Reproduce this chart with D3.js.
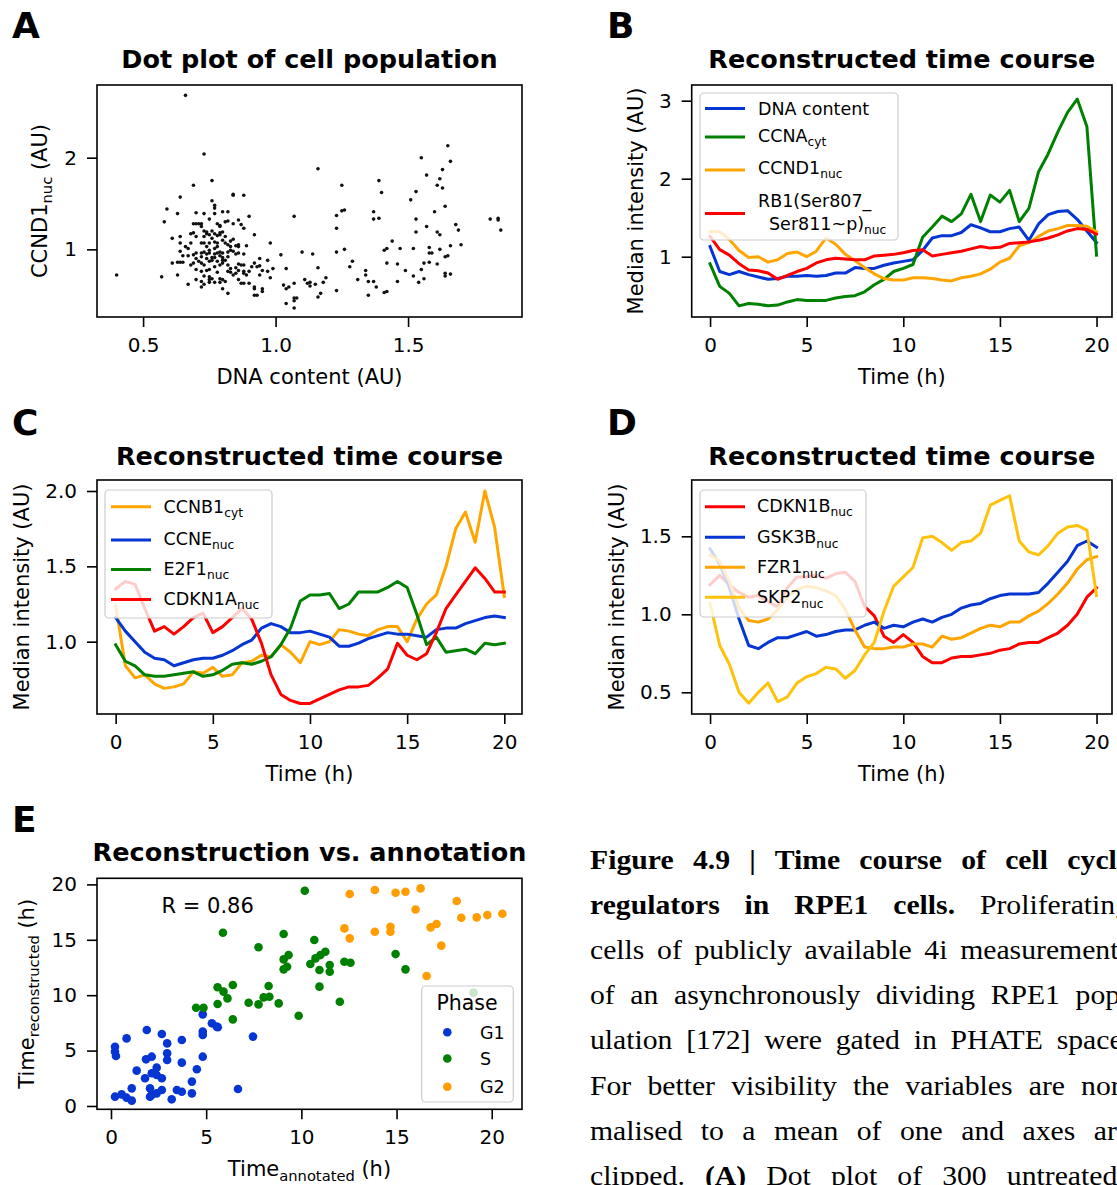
<!DOCTYPE html>
<html>
<head>
<meta charset="utf-8">
<script src="https://cdn.jsdelivr.net/npm/d3@7"></script>
<style>
body { margin: 0; background: #fff; }
svg { display: block; }
</style>
</head>
<body>
<script>
// ---- data ----
var hours = [0,0.5,1,1.5,2,2.5,3,3.5,4,4.5,5,5.5,6,6.5,7,7.5,8,8.5,9,9.5,10,
             10.5,11,11.5,12,12.5,13,13.5,14,14.5,15,15.5,16,16.5,17,17.5,18,18.5,19,19.5,20];

// panel B
var dnaContent = [1.13,0.81,0.77,0.81,0.77,0.74,0.71,0.72,0.75,0.75,0.76,0.75,0.76,0.79,0.79,0.86,0.85,0.85,0.89,0.92,
                  0.94,0.96,1.08,1.24,1.27,1.27,1.31,1.41,1.37,1.32,1.32,1.36,1.38,1.21,1.42,1.54,1.58,1.59,1.48,1.33,1.18];
var ccnaCyt    = [0.91,0.62,0.53,0.37,0.40,0.39,0.37,0.38,0.42,0.45,0.44,0.44,0.44,0.47,0.49,0.50,0.55,0.64,0.71,0.81,
                  0.85,0.90,1.25,1.38,1.52,1.45,1.55,1.80,1.45,1.79,1.70,1.85,1.45,1.62,2.09,2.32,2.60,2.85,3.02,2.67,1.02];
var ccnd1Nuc   = [1.32,1.32,1.22,1.08,0.99,1.00,0.93,0.96,1.04,1.06,1.00,1.07,1.24,1.16,1.03,0.95,0.86,0.78,0.72,0.70,
                  0.70,0.73,0.73,0.72,0.70,0.69,0.73,0.75,0.78,0.84,0.93,0.98,1.14,1.18,1.26,1.33,1.36,1.40,1.40,1.39,1.32];
var rb1Nuc     = [1.26,1.09,1.02,0.91,0.83,0.82,0.79,0.71,0.76,0.81,0.85,0.92,0.96,0.98,0.97,0.96,0.96,1.01,1.02,1.03,
                  1.05,1.08,1.09,1.01,1.03,1.05,1.07,1.10,1.13,1.11,1.12,1.17,1.18,1.19,1.21,1.24,1.28,1.33,1.36,1.35,1.29];

// panel C
var ccnb1Cyt  = [1.24,0.84,0.76,0.78,0.72,0.69,0.70,0.72,0.80,0.79,0.83,0.77,0.78,0.86,0.87,0.91,0.90,0.98,0.93,0.86,
                 1.00,0.98,1.00,1.08,1.07,1.05,1.04,1.08,1.10,1.10,1.00,1.15,1.25,1.31,1.50,1.75,1.86,1.66,2.00,1.76,1.30];
var ccneNuc   = [1.16,1.07,1.00,0.93,0.89,0.88,0.84,0.86,0.88,0.89,0.89,0.91,0.94,0.98,1.01,1.09,1.12,1.10,1.06,1.06,
                 1.07,1.05,1.03,0.97,0.97,0.99,1.02,1.04,1.06,1.05,1.05,1.04,1.03,1.08,1.09,1.09,1.12,1.14,1.16,1.17,1.16];
var e2f1Nuc   = [0.98,0.87,0.84,0.78,0.77,0.77,0.78,0.79,0.80,0.77,0.78,0.81,0.85,0.86,0.85,0.87,0.90,0.98,1.09,1.27,
                 1.31,1.31,1.32,1.22,1.25,1.33,1.33,1.33,1.36,1.40,1.36,1.18,0.98,1.03,0.93,0.94,0.95,0.92,0.99,0.98,0.99];
var cdkn1aNuc = [1.35,1.40,1.38,1.22,1.07,1.10,1.05,1.10,1.16,1.19,1.06,1.10,1.16,1.22,1.15,0.99,0.78,0.65,0.61,0.59,
                 0.59,0.62,0.65,0.68,0.70,0.70,0.71,0.76,0.82,0.99,0.91,0.88,0.92,1.06,1.22,1.31,1.40,1.49,1.42,1.33,1.33];

// panel D
var cdkn1bNuc = [1.19,1.25,1.19,1.14,1.11,1.12,1.08,1.05,1.17,1.24,1.24,1.25,1.23,1.26,1.27,1.21,1.05,0.99,0.86,0.82,
                 0.87,0.82,0.73,0.69,0.69,0.72,0.73,0.73,0.74,0.75,0.77,0.78,0.81,0.82,0.82,0.85,0.88,0.93,1.00,1.11,1.17];
var gsk3bNuc  = [1.42,1.32,1.17,0.97,0.80,0.78,0.82,0.85,0.85,0.87,0.89,0.86,0.87,0.89,0.90,0.90,0.93,0.95,0.91,0.93,
                 0.92,0.95,0.97,0.95,0.98,1.00,1.04,1.06,1.07,1.10,1.12,1.13,1.13,1.13,1.14,1.20,1.27,1.34,1.44,1.47,1.43];
var fzr1Nuc   = [1.38,1.34,1.21,1.04,0.96,0.95,0.97,1.03,1.11,1.16,1.18,1.17,1.15,1.12,1.03,0.90,0.79,0.78,0.78,0.79,
                 0.79,0.81,0.81,0.79,0.86,0.84,0.85,0.88,0.91,0.93,0.92,0.95,0.95,0.99,1.02,1.07,1.13,1.20,1.29,1.35,1.37];
var skp2Nuc   = [1.07,0.80,0.68,0.50,0.43,0.50,0.56,0.44,0.47,0.56,0.60,0.62,0.66,0.65,0.59,0.64,0.74,0.82,1.02,1.18,
                 1.24,1.30,1.49,1.50,1.46,1.41,1.46,1.47,1.52,1.70,1.73,1.76,1.47,1.40,1.38,1.44,1.52,1.56,1.57,1.54,1.12];

// panel A, one dot per cell
var cellDna = [
  0.40,0.57,0.66,0.73,0.76,0.69,0.64,0.59,0.58,0.63, 0.61,0.64,0.64,0.64,0.63,0.61,0.63,0.67,0.69,0.68,
  0.69,0.65,0.67,0.67,0.65,0.64,0.70,0.71,0.70,0.72, 0.73,0.72,0.73,0.74,0.76,0.77,0.77,0.77,0.75,0.74,
  0.76,0.77,0.78,0.79,0.79,0.78,0.79,0.80,0.82,0.81, 0.82,0.84,0.84,0.88,0.90,0.84,0.86,0.87,0.88,0.84,
  0.86,0.86,0.89,0.82,0.81,0.80,0.78,0.77,0.75,0.73, 0.74,0.75,0.77,0.78,0.79,0.80,0.82,0.83,0.84,0.86,
  0.88,0.78,0.77,0.75,0.74,0.73,0.72,0.70,0.69,0.70, 0.69,0.68,0.70,0.72,0.73,0.75,0.76,0.78,0.79,0.80,
  0.81,0.82,0.80,0.79,0.77,0.75,0.74,0.72,0.75,0.78, 0.79,0.80,0.82,0.83,0.84,0.85,0.86,0.87,0.88,0.88,
  0.86,0.85,0.83,0.70,0.72,0.73,0.72,0.75,0.77,0.79, 0.80,0.81,0.82,0.88,0.88,0.90,0.90,0.92,0.92,0.92,
  0.93,0.95,0.95,0.94,0.92,0.94,0.94,0.93,0.92,0.98, 0.97,0.99,0.98,1.02,1.04,1.03,1.04,1.05,1.07,1.07,
  1.07,1.07,1.08,1.07,1.04,1.10,1.11,1.12,1.13,1.13, 1.14,1.15,1.16,1.16,1.17,1.18,1.19,1.16,1.23,1.23,
  1.23,1.23,1.25,1.26,1.25,1.26,1.28,1.29,1.31,1.34, 1.34,1.35,1.35,1.37,1.37,1.37,1.39,1.38,1.39,1.40,
  1.41,1.42,1.41,1.42,1.42,1.44,1.46,1.46,1.47,1.49, 1.51,1.52,1.52,1.53,1.53,1.53,1.54,1.55,1.55,1.56,
  1.56,1.57,1.57,1.58,1.58,1.58,1.59,1.60,1.61,1.61, 1.61,1.62,1.62,1.62,1.63,1.63,1.64,1.64,1.64,1.64,
  1.65,1.65,1.66,1.66,1.66,1.68,1.69,1.70,1.81,1.84, 1.84,1.85,
  0.75,0.76,0.73,0.79,0.80,0.81,0.83,0.83,0.85,0.85, 0.82,0.80,0.77,0.76,0.74,0.72,0.71,0.73,0.75,0.76,
  0.87,0.86,0.89,0.91,0.95,0.97,0.70,0.68,0.66,0.72
];
var cellCcnd1 = [
  0.72,0.70,2.68,2.04,1.75,1.70,1.57,1.44,1.30,1.39, 1.12,1.14,1.07,0.98,0.86,0.85,0.72,0.62,1.28,1.17,
  1.18,0.93,0.93,1.01,0.86,0.86,1.40,1.28,1.28,1.28, 1.39,1.25,1.20,1.17,1.53,1.48,1.45,1.39,1.33,1.19,
  1.20,1.17,1.28,1.26,1.25,1.15,1.16,1.41,1.41,1.30, 1.31,1.60,1.59,1.59,1.36,1.28,1.32,1.27,1.23,1.11,
  1.05,1.03,1.04,1.05,1.07,1.10,1.07,1.08,1.07,1.07, 1.03,0.99,1.01,1.03,0.97,0.96,0.97,0.99,0.98,0.96,
  0.95,0.96,0.95,0.96,0.95,0.97,0.96,0.96,0.94,0.90, 0.85,0.83,0.78,0.85,0.83,0.87,0.88,0.87,0.93,0.88,
  0.88,0.83,0.85,0.83,0.81,0.78,0.77,0.76,0.70,0.75, 0.68,0.67,0.76,0.75,0.72,0.74,0.77,0.83,0.76,0.83,
  0.84,0.80,0.79,0.67,0.65,0.62,0.59,0.67,0.64,0.64, 0.57,0.65,0.52,0.74,0.63,0.63,0.76,0.59,0.57,0.50,
  0.50,0.57,0.54,0.72,0.85,0.90,0.82,0.81,1.16,1.07, 0.76,0.79,0.69,0.94,0.79,0.61,0.57,0.59,1.36,0.63,
  0.47,0.44,0.47,0.36,0.41,0.97,0.67,0.63,0.60,0.64, 0.95,0.62,0.80,0.48,0.52,0.64,0.69,1.88,1.37,1.23,
  0.97,0.55,1.42,1.43,1.70,1.00,0.81,0.87,0.67,0.77, 0.72,0.65,0.50,0.65,1.41,1.33,1.34,0.59,1.75,1.62,
  0.53,0.54,0.99,1.01,0.85,1.09,0.65,0.84,1.01,0.77, 1.54,1.01,0.71,1.33,1.19,1.63,0.64,2.00,0.78,0.85,
  0.68,1.25,1.81,1.02,0.96,0.86,0.96,1.41,0.84,1.70, 1.19,1.00,1.16,1.77,1.67,1.87,1.47,0.92,0.74,0.71,
  0.93,2.13,1.96,1.04,0.73,1.27,1.21,1.05,1.33,1.32, 1.34,1.21,
  1.16,1.12,1.14,1.18,1.19,1.14,1.09,1.03,1.04,0.95, 0.92,0.91,0.91,0.91,0.90,0.92,0.87,0.71,0.64,0.68,
  0.63,0.67,0.72,0.81,0.77,0.88,1.14,1.07,1.03,1.07
];

// panel E
var g1Annotated = [0.21,0.21,0.26,0.82,1.88,2.67,2.95,2.95,2.95,1.84,2.14,1.35,2.40,1.79,2.14,2.40,2.67,0.21,0.56,0.82,
                   1.09,1.09,2.05,2.14,2.05,2.40,2.67,3.19,3.46,3.72,4.25,4.25,3.72,3.72,4.51,4.82,4.82,4.82,4.82,5.30,
                   5.56,5.61,7.46,6.67];
var g1Reconstructed = [5.35,4.90,4.51,6.10,6.86,6.50,5.65,4.75,4.15,4.21,4.45,3.19,3.46,2.50,2.95,2.80,2.50,0.84,1.05,0.75,
                       0.48,1.59,1.59,0.99,0.84,1.14,1.44,0.60,1.44,1.29,1.14,2.20,5.95,3.91,3.31,4.45,6.41,6.71,8.27,7.46,
                       7.16,7.10,6.26,1.53];
var sAnnotated = [10.18,5.88,7.75,9.07,10.68,9.07,9.33,9.07,9.25,10.47,10.74,11.00,11.26,10.95,11.49,11.49,12.26,12.58,10.95,12.02,
                  14.95,15.47,19.04,5.60,5.91,6.40,6.12,5.60,4.47,4.86,6.40,7.23,7.75,8.02,8.32,8.28,8.81,9.86];
var sReconstructed = [19.43,15.64,14.32,15.52,14.98,13.23,13.62,12.33,12.57,12.81,13.32,13.62,13.92,12.27,12.72,12.12,13.02,12.93,10.77,9.41,
                      13.71,12.33,10.23,10.71,10.32,10.92,9.71,9.20,8.87,8.87,7.82,9.32,9.17,9.80,9.86,10.83,9.26,8.15];
var g2Annotated = [12.54,13.86,14.95,15.47,16.26,16.00,18.16,18.40,19.21,19.77,20.56,12.26,12.54,13.86,14.68,14.68,16.79,17.10,17.35,16.58];
var g2Reconstructed = [19.13,19.49,19.25,19.34,19.64,17.74,18.50,16.99,17.02,17.23,17.35,16.03,15.13,15.73,16.18,15.73,16.12,16.42,14.47,11.73];
var correlationR = 0.86;

// ticks
var timeTicks = [0, 5, 10, 15, 20];
var dnaTicks = [0.5, 1.0, 1.5];
var ccndTicks = [1, 2];
var bTicks = [1, 2, 3];
var cTicks = [1.0, 1.5, 2.0];
var dTicks = [0.5, 1.0, 1.5];
var eTicks = [0, 5, 10, 15, 20];

// ---- drawing ----
var W = 1117, H = 1185;
var SANS = "DejaVu Sans";
var BLUE = "#0535d2", GREEN = "#008000", ORANGE = "#ffa500", RED = "#ff0000", AMBER = "#ffc20a";

var svg = d3.select("body").append("svg").attr("width", W).attr("height", H);
svg.append("rect").attr("width", W).attr("height", H).attr("fill", "#fff");

var clipCount = 0;
function panel(box, xDomain, yDomain, xTicks, yTicks, xFmt, yFmt) {
    var x = d3.scaleLinear().domain(xDomain).range([box.l, box.r]);
    var y = d3.scaleLinear().domain(yDomain).range([box.b, box.t]);
    var g = svg.append("g");
    var id = "clip" + (clipCount++);
    g.append("clipPath").attr("id", id).append("rect")
        .attr("x", box.l).attr("y", box.t)
        .attr("width", box.r - box.l).attr("height", box.b - box.t);
    var plot = g.append("g").attr("clip-path", "url(#" + id + ")");
    var xa = g.append("g").attr("transform", "translate(0," + box.b + ")")
        .call(d3.axisBottom(x).tickValues(xTicks).tickFormat(xFmt).tickSize(10).tickPadding(11));
    var ya = g.append("g").attr("transform", "translate(" + box.l + ",0)")
        .call(d3.axisLeft(y).tickValues(yTicks).tickFormat(yFmt).tickSize(10).tickPadding(10));
    [xa, ya].forEach(function(a) {
        a.select(".domain").remove();
        a.attr("font-family", SANS).attr("font-size", 20);
        a.selectAll("line").attr("stroke", "#000").attr("stroke-width", 1.6);
        a.selectAll("text").attr("fill", "#000");
    });
    return {g: g, plot: plot, x: x, y: y, box: box};
}

function frame(p) {
    p.g.append("rect")
        .attr("x", p.box.l).attr("y", p.box.t)
        .attr("width", p.box.r - p.box.l).attr("height", p.box.b - p.box.t)
        .attr("fill", "none").attr("stroke", "#000").attr("stroke-width", 1.6);
}

// parts: strings, or {sub: "..."} for a subscript
function rich(text, parts, size) {
    var low = false;
    parts.forEach(function(p) {
        var sub = typeof p !== "string";
        var t = text.append("tspan").text(sub ? p.sub : p);
        if (sub) {
            t.attr("font-size", size * 0.7).attr("dy", size * 0.24);
            low = true;
        } else {
            t.attr("font-size", size);
            if (low) { t.attr("dy", -size * 0.24); low = false; }
        }
    });
}

function xLabel(p, parts, base) {
    var t = svg.append("text").attr("x", (p.box.l + p.box.r) / 2).attr("y", base)
        .attr("text-anchor", "middle").attr("font-family", SANS);
    rich(t, parts, 21);
}
function yLabel(p, parts, xb) {
    var t = svg.append("text")
        .attr("transform", "translate(" + xb + "," + (p.box.t + p.box.b) / 2 + ") rotate(-90)")
        .attr("text-anchor", "middle").attr("font-family", SANS);
    rich(t, parts, 21);
}
function title(p, str, base) {
    svg.append("text").attr("x", (p.box.l + p.box.r) / 2).attr("y", base)
        .attr("text-anchor", "middle").attr("font-family", SANS)
        .attr("font-weight", "bold").attr("font-size", 25.5).text(str);
}
function letter(str, x, base) {
    svg.append("text").attr("x", x).attr("y", base).attr("font-family", SANS)
        .attr("font-weight", "bold").attr("font-size", 36).text(str);
}

function drawLines(p, series) {
    var line = d3.line()
        .x(function(d, i) { return p.x(hours[i]); })
        .y(function(d) { return p.y(d); });
    series.forEach(function(s) {
        p.plot.append("path").datum(s.values)
            .attr("d", line).attr("fill", "none")
            .attr("stroke", s.color).attr("stroke-width", 3)
            .attr("stroke-linejoin", "round").attr("stroke-linecap", "square");
    });
}

function legendBox(x, y, w, h) {
    svg.append("rect").attr("x", x).attr("y", y).attr("width", w).attr("height", h)
        .attr("rx", 4).attr("fill", "#fff").attr("fill-opacity", 0.8)
        .attr("stroke", "#cccccc").attr("stroke-width", 1.2);
}
function legendLines(x0, series, tx) {
    series.forEach(function(s) {
        svg.append("line").attr("x1", x0).attr("x2", x0 + 40)
            .attr("y1", s.hy).attr("y2", s.hy)
            .attr("stroke", s.color).attr("stroke-width", 3);
        s.lines.forEach(function(parts, k) {
            var t = svg.append("text").attr("x", tx + (k > 0 ? 11 : 0)).attr("y", s.base + k * 23)
                .attr("font-family", SANS);
            rich(t, parts, 17.5);
        });
    });
}

var fmt1 = d3.format(".1f"), fmt0 = d3.format("d");

// A: dot plot
var pA = panel({l: 97, r: 522, t: 85, b: 317}, [0.326, 1.930], [0.262, 2.793], dnaTicks, ccndTicks, fmt1, fmt0);
pA.plot.selectAll("circle").data(cellDna).enter().append("circle")
    .attr("cx", function(d) { return pA.x(d); })
    .attr("cy", function(d, i) { return pA.y(cellCcnd1[i]); })
    .attr("r", 1.8).attr("fill", "#111");
frame(pA);
title(pA, "Dot plot of cell population", 68);
xLabel(pA, ["DNA content (AU)"], 384);
yLabel(pA, ["CCND1", {sub: "nuc"}, " (AU)"], 47);
letter("A", 12, 38);

// B
var seriesB = [
    {values: dnaContent, color: BLUE, hy: 108.5, base: 115, lines: [["DNA content"]]},
    {values: ccnaCyt, color: GREEN, hy: 137, base: 141.5, lines: [["CCNA", {sub: "cyt"}]]},
    {values: ccnd1Nuc, color: ORANGE, hy: 170, base: 173.5, lines: [["CCND1", {sub: "nuc"}]]},
    {values: rb1Nuc, color: RED, hy: 213.5, base: 207, lines: [["RB1(Ser807_"], ["Ser811~p)", {sub: "nuc"}]]}
];
var pB = panel({l: 691.7, r: 1112, t: 85, b: 317}, [-0.95, 20.8], [0.227, 3.201], timeTicks, bTicks, fmt0, fmt0);
drawLines(pB, seriesB);
frame(pB);
legendBox(700, 93, 198, 147);
legendLines(705, seriesB, 758);
title(pB, "Reconstructed time course", 68);
xLabel(pB, ["Time (h)"], 384);
yLabel(pB, ["Median intensity (AU)"], 643);
letter("B", 607, 38);

// C
var seriesC = [
    {values: ccnb1Cyt, color: ORANGE, hy: 506.7, base: 513, lines: [["CCNB1", {sub: "cyt"}]]},
    {values: ccneNuc, color: BLUE, hy: 540, base: 545, lines: [["CCNE", {sub: "nuc"}]]},
    {values: e2f1Nuc, color: GREEN, hy: 569.5, base: 575, lines: [["E2F1", {sub: "nuc"}]]},
    {values: cdkn1aNuc, color: RED, hy: 599.5, base: 605, lines: [["CDKN1A", {sub: "nuc"}]]}
];
var pC = panel({l: 97, r: 522, t: 480, b: 714}, [-0.96, 20.91], [0.520, 2.073], timeTicks, cTicks, fmt0, fmt1);
drawLines(pC, seriesC);
frame(pC);
legendBox(105, 490, 167, 128);
legendLines(111, seriesC, 163.5);
title(pC, "Reconstructed time course", 465);
xLabel(pC, ["Time (h)"], 781);
yLabel(pC, ["Median intensity (AU)"], 29);
letter("C", 12, 435);

// D
var seriesD = [
    {values: cdkn1bNuc, color: RED, hy: 506.7, base: 511.7, lines: [["CDKN1B", {sub: "nuc"}]]},
    {values: gsk3bNuc, color: BLUE, hy: 537.3, base: 543.3, lines: [["GSK3B", {sub: "nuc"}]]},
    {values: fzr1Nuc, color: ORANGE, hy: 567.3, base: 573.3, lines: [["FZR1", {sub: "nuc"}]]},
    {values: skp2Nuc, color: AMBER, hy: 597.3, base: 603.3, lines: [["SKP2", {sub: "nuc"}]]}
];
var pD = panel({l: 691.7, r: 1112, t: 480, b: 714}, [-0.95, 20.8], [0.361, 1.861], timeTicks, dTicks, fmt0, fmt1);
drawLines(pD, seriesD);
frame(pD);
legendBox(700, 490, 166, 127);
legendLines(705, seriesD, 757);
title(pD, "Reconstructed time course", 465);
xLabel(pD, ["Time (h)"], 781);
yLabel(pD, ["Median intensity (AU)"], 624);
letter("D", 607, 435);

// E
var phases = [
    {name: "G1", color: BLUE, xs: g1Annotated, ys: g1Reconstructed, my: 1032.3, base: 1038.5},
    {name: "S", color: GREEN, xs: sAnnotated, ys: sReconstructed, my: 1058.5, base: 1065},
    {name: "G2", color: "#ff9c00", xs: g2Annotated, ys: g2Reconstructed, my: 1086.7, base: 1092.5}
];
var pE = panel({l: 97, r: 522, t: 878.3, b: 1109.3}, [-0.735, 21.59], [-0.30, 20.55], eTicks, eTicks, fmt0, fmt0);
phases.forEach(function(ph) {
    pE.plot.append("g").selectAll("circle").data(ph.xs).enter().append("circle")
        .attr("cx", function(d) { return pE.x(d); })
        .attr("cy", function(d, i) { return pE.y(ph.ys[i]); })
        .attr("r", 4.3).attr("fill", ph.color);
});
frame(pE);
svg.append("text").attr("x", 161.5).attr("y", 913).attr("font-family", SANS).attr("font-size", 21)
    .text("R = " + correlationR.toFixed(2));
legendBox(421.7, 986, 91.6, 116);
svg.append("text").attr("x", 467).attr("y", 1010).attr("text-anchor", "middle")
    .attr("font-family", SANS).attr("font-size", 20.5).text("Phase");
phases.forEach(function(ph) {
    svg.append("circle").attr("cx", 447.3).attr("cy", ph.my).attr("r", 4.3).attr("fill", ph.color);
    svg.append("text").attr("x", 480).attr("y", ph.base).attr("font-family", SANS)
        .attr("font-size", 17.5).text(ph.name);
});
title(pE, "Reconstruction vs. annotation", 861);
xLabel(pE, ["Time", {sub: "annotated"}, " (h)"], 1176);
yLabel(pE, ["Time", {sub: "reconstructed"}, " (h)"], 34);
letter("E", 12, 832);

// caption: justified lines, cut by the page edge like the original
var captionLines = [
    [["Figure 4.9 | Time course of cell cycle", true]],
    [["regulators in RPE1 cells.", true], [" Proliferating", false]],
    [["cells of publicly available 4i measurements", false]],
    [["of an asynchronously dividing RPE1 pop-", false]],
    [["ulation [172] were gated in PHATE space.", false]],
    [["For better visibility the variables are nor-", false]],
    [["malised to a mean of one and axes are", false]],
    [["clipped.  ", false], ["(A)", true], [" Dot plot of 300 untreated", false]]
];
var stretch = 1.1, lineWidth = 540 / stretch;
captionLines.forEach(function(parts, i) {
    var t = svg.append("text")
        .attr("transform", "translate(590," + (869 + i * 45.1) + ") scale(" + stretch + ",1)")
        .attr("font-family", "Liberation Serif").attr("font-size", 27);
    var spaces = 0;
    parts.forEach(function(p) {
        t.append("tspan").text(p[0]).attr("font-weight", p[1] ? "bold" : "normal");
        spaces += (p[0].match(/ /g) || []).length;
    });
    var natural = t.node().getComputedTextLength();
    if (spaces > 0) t.attr("word-spacing", (lineWidth - natural) / spaces);
});
</script>
</body>
</html>
